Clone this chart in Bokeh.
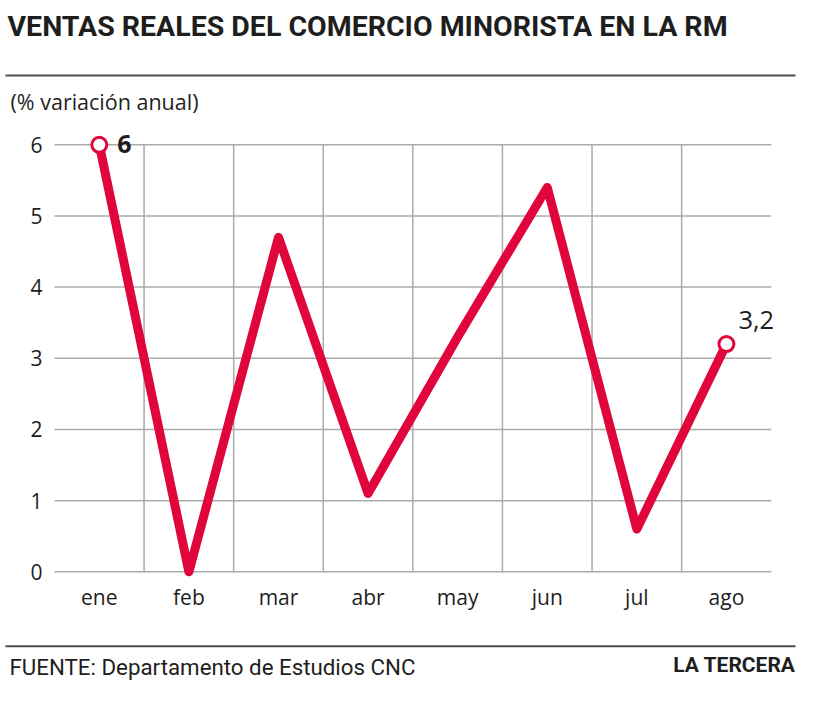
import numpy as np
from bokeh.plotting import figure
from bokeh.models import FixedTicker, Label, BoxAnnotation, Range1d
from bokeh.embed import file_html
from bokeh.resources import INLINE

# ---------------- data ----------------
months = ["ene", "feb", "mar", "abr", "may", "jun", "jul", "ago"]
variacion = [6.0, 0.0, 4.7, 1.1, 3.3, 5.4, 0.6, 3.2]
y_ticks = [0, 1, 2, 3, 4, 5, 6]
highlight_idx = [0, 7]
highlight_labels = ["6", "3,2"]

title_text = "VENTAS REALES DEL COMERCIO MINORISTA EN LA RM"
subtitle_text = "(% variación anual)"
source_text = "FUENTE: Departamento de Estudios CNC"
brand_text = "LA TERCERA"

# ---------------- style / layout ----------------
RED = "#E0063C"
GRID = "#ABABAB"
RULE = "#4D4D4D"
TXT = "#1E1E1E"
FONT = "Open Sans"
HEAD = "Roboto"

W, H = 812, 705
PX_X = 89.59     # pixels per category band
PX_Y = 71.17     # pixels per unit of y
LEFT0 = 54.0     # pixel of x = 0
ZERO_Y = 571.3   # pixel (from top) of y = 0

x = np.arange(len(months)) + 0.5

p = figure(width=W, height=H, output_backend="svg", toolbar_location=None,
           x_range=Range1d(-LEFT0 / PX_X, (W - LEFT0) / PX_X),
           y_range=Range1d(-(H - ZERO_Y) / PX_Y, ZERO_Y / PX_Y),
           min_border=0)
p.outline_line_color = None
p.background_fill_color = "white"
p.border_fill_color = "white"
p.xgrid.visible = False
p.ygrid.visible = False

# axes placed at the data origin (inside the canvas)
p.xaxis.ticker = FixedTicker(ticks=list(x))
p.xaxis.major_label_overrides = {float(xi): m for xi, m in zip(x, months)}
p.xaxis.fixed_location = 0
p.yaxis.ticker = FixedTicker(ticks=y_ticks)
p.yaxis.fixed_location = 0
for ax in (p.xaxis[0], p.yaxis[0]):
    ax.axis_line_color = None
    ax.major_tick_line_color = None
    ax.minor_tick_line_color = None
    ax.major_label_text_font = FONT
    ax.major_label_text_color = TXT
p.xaxis.major_label_text_font_size = "21px"
p.xaxis.major_label_standoff = 5
p.yaxis.major_label_text_font_size = "21px"
p.yaxis.major_label_standoff = 6

# grid lines
n = len(months)
p.segment(x0=[0] * len(y_ticks), x1=[n] * len(y_ticks), y0=y_ticks, y1=y_ticks,
          line_color=GRID, line_width=1.5)
bounds = np.arange(1, n)
p.segment(x0=bounds, x1=bounds, y0=[min(y_ticks)] * len(bounds),
          y1=[max(y_ticks)] * len(bounds), line_color=GRID, line_width=1.5)

# series
p.line(x, variacion, line_color=RED, line_width=9,
       line_join="round", line_cap="round")
hx = [x[i] for i in highlight_idx]
hy = [variacion[i] for i in highlight_idx]
p.scatter(hx, hy, size=15, fill_color="white", line_color=RED, line_width=3)

# value labels
p.add_layout(Label(x=hx[0], y=hy[0], text=highlight_labels[0], x_offset=18, y_offset=1,
                   text_font=FONT, text_font_size="25px", text_font_style="bold",
                   text_color=TXT, text_baseline="alphabetic"))
p.add_layout(Label(x=hx[1], y=hy[1], text=highlight_labels[1], x_offset=12, y_offset=24,
                   text_font=FONT, text_font_size="25.5px",
                   text_color=TXT, text_baseline="alphabetic"))

# texts (screen units, origin bottom-left of canvas)
def slabel(xp, ybase, text, size, font=FONT, bold=False, align="left"):
    p.add_layout(Label(x=xp, y=H - ybase, x_units="screen", y_units="screen", text=text,
                       text_font=font, text_font_size=size,
                       text_font_style="bold" if bold else "normal",
                       text_color=TXT, text_align=align, text_baseline="alphabetic"))

slabel(7, 25.5, title_text, "28.5px", font=HEAD, bold=True)
slabel(10, 101, subtitle_text, "21.5px")
slabel(9, 666, source_text, "22.3px", font=HEAD)
slabel(795, 664.6, brand_text, "21px", font=HEAD, bold=True, align="right")

# horizontal rules
def rule(ytop):
    p.add_layout(BoxAnnotation(left=5, right=795, bottom=H - ytop - 2, top=H - ytop,
                               left_units="screen", right_units="screen",
                               bottom_units="screen", top_units="screen",
                               fill_color=RULE, fill_alpha=1, line_color=None))

rule(74)
rule(644.7)

open("out.html", "w").write(file_html(p, INLINE))
